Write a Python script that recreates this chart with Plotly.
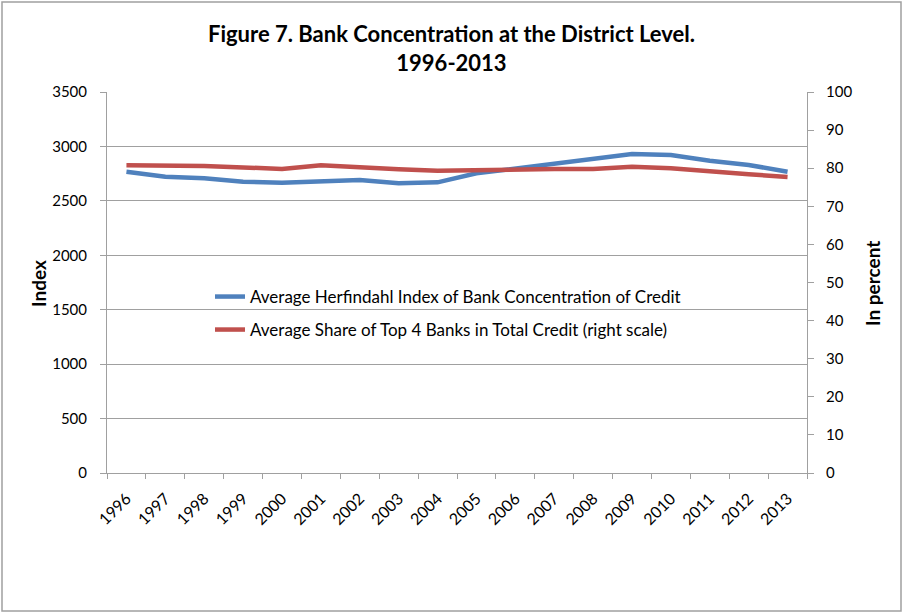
import plotly.graph_objects as go

years = ["1996", "1997", "1998", "1999", "2000", "2001", "2002", "2003", "2004",
         "2005", "2006", "2007", "2008", "2009", "2010", "2011", "2012", "2013"]
herfindahl = [2768, 2722, 2707, 2676, 2667, 2676, 2692, 2661, 2670,
              2753, 2799, 2836, 2891, 2930, 2921, 2869, 2829, 2768]
top4_share = [80.8, 80.8, 80.6, 80.2, 79.8, 80.8, 80.2, 79.7, 79.3,
              79.5, 79.8, 79.8, 79.8, 80.4, 80.0, 79.1, 78.4, 77.7]

name_hhi = "Average Herfindahl Index of Bank Concentration of Credit"
name_top4 = "Average Share of Top 4 Banks in Total Credit (right scale)"
title_lines = ["Figure 7. Bank Concentration at the District Level.", "1996-2013"]

FONT = "Lato, 'Open Sans', sans-serif"
GRID = "#A0A0A0"

W, H = 903, 613
L, R, T, B = 107, 807, 92, 473

fig = go.Figure()
fig.add_trace(go.Scatter(x=years, y=herfindahl, name=name_hhi, mode="lines",
                         line=dict(color="#4F81BD", width=4.5), legend="legend"))
fig.add_trace(go.Scatter(x=years, y=top4_share, name=name_top4, mode="lines",
                         line=dict(color="#C0504D", width=4.5), yaxis="y2", legend="legend2"))

def px_x(x):
    return (x - L) / (R - L)

def px_y(y):
    return (B - y) / (B - T)

fig.update_layout(
    width=W, height=H,
    margin=dict(l=L, r=W - R, t=T, b=H - B, autoexpand=False),
    paper_bgcolor="white", plot_bgcolor="white",
    font=dict(family=FONT, size=15, color="black"),
    title=dict(text="<br>".join("<b>%s</b>" % s for s in title_lines),
               x=0.5, xanchor="center", xref="container",
               y=1 - 42 / H, yanchor="middle", yref="container",
               font=dict(family=FONT, size=22, color="black")),
    xaxis=dict(type="category", range=[-0.5, len(years) - 0.5], tickangle=-45,
               ticks="outside", ticklen=5, tickson="boundaries", tickcolor=GRID,
               showline=True, linecolor=GRID, linewidth=1, showgrid=False,
               tickfont=dict(size=16), zeroline=False, ticklabelstandoff=9),
    yaxis=dict(range=[0, 3500], dtick=500, ticks="outside", ticklen=6, tickcolor=GRID,
               showline=True, linecolor=GRID, linewidth=1, showgrid=True, gridcolor=GRID,
               gridwidth=1, zeroline=False, tickfont=dict(size=15), ticklabelstandoff=10),
    yaxis2=dict(range=[0, 100], dtick=10, overlaying="y", side="right", ticks="outside",
                ticklen=6, tickcolor=GRID, showline=True, linecolor=GRID, linewidth=1,
                showgrid=False, zeroline=False, tickfont=dict(size=15), ticklabelstandoff=9),
    legend=dict(x=px_x(210), y=px_y(297), xanchor="left", yanchor="middle",
                bgcolor="rgba(0,0,0,0)", font=dict(size=17), itemwidth=30),
    legend2=dict(x=px_x(210), y=px_y(330), xanchor="left", yanchor="middle",
                 bgcolor="rgba(0,0,0,0)", font=dict(size=17), itemwidth=30),
    showlegend=True,
)

fig.add_annotation(text="<b>Index</b>", x=px_x(38), y=px_y(284), xref="paper", yref="paper",
                   textangle=-90, showarrow=False, font=dict(size=19),
                   xanchor="center", yanchor="middle")
fig.add_annotation(text="<b>In percent</b>", x=px_x(872), y=px_y(283), xref="paper", yref="paper",
                   textangle=-90, showarrow=False, font=dict(size=19),
                   xanchor="center", yanchor="middle")

fig.add_shape(type="rect", xref="paper", yref="paper",
              x0=px_x(2), x1=px_x(901), y0=px_y(611), y1=px_y(2),
              line=dict(color="#A0A0A0", width=1.5), fillcolor="rgba(0,0,0,0)", layer="below")

fig.write_html("out.html", config={"displayModeBar": False},
               post_script="document.body.style.margin='0';document.body.style.overflow='hidden';")
